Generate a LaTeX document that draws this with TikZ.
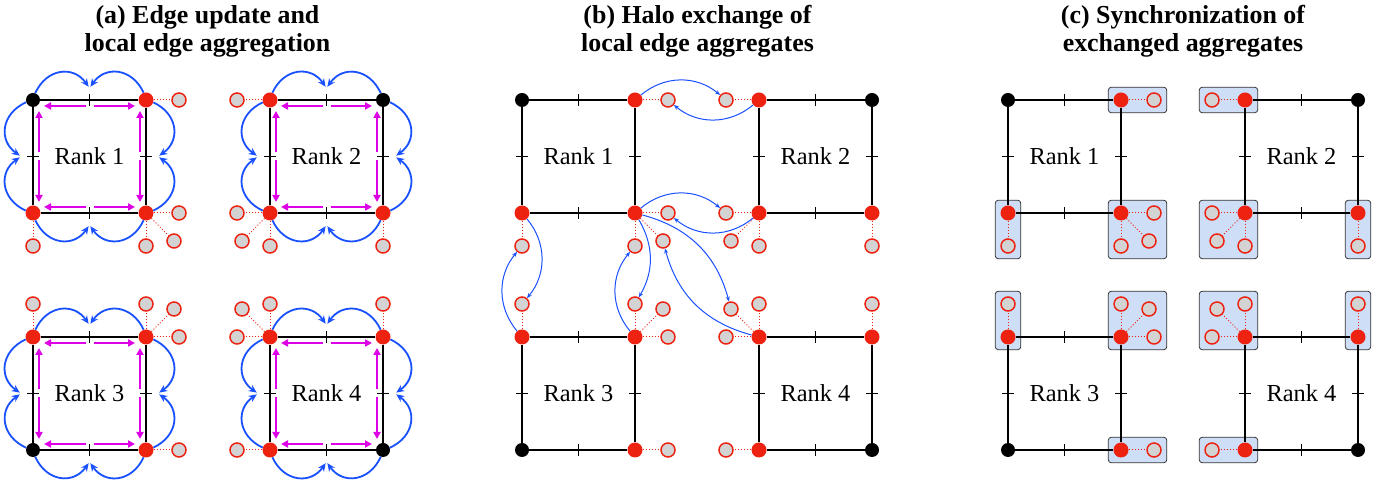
\documentclass[tikz,border=0pt]{standalone}
\usepackage{fontspec}
\setmainfont{Liberation Serif}
\usepackage{tikz}
\usetikzlibrary{arrows.meta, fit, backgrounds}

\definecolor{nodered}{RGB}{238,34,17}
\definecolor{ghostgray}{RGB}{211,211,211}
\definecolor{arrowblue}{RGB}{25,80,255}
\definecolor{aggmagenta}{RGB}{222,0,230}
\definecolor{boxblue}{RGB}{206,222,246}

% one rank: #1 name, #2 left, #3 top, #4 label, #5--#8 styles of tl, tr, bl, br
\newcommand{\rankmesh}[8]{%
  \node[#5] (#1tl) at (#2,#3) {};
  \node[#6] (#1tr) at (#2+113,#3) {};
  \node[#7] (#1bl) at (#2,#3-113) {};
  \node[#8] (#1br) at (#2+113,#3-113) {};
  \node[ranklabel] (#1label) at (#2+56.5,#3-56.5) {#4};
  \coordinate (#1t) at (#2+56.5,#3);
  \coordinate (#1b) at (#2+56.5,#3-113);
  \coordinate (#1l) at (#2,#3-56.5);
  \coordinate (#1r) at (#2+113,#3-56.5);
  \coordinate (#1t-out) at (#2+56.5,#3+12);
  \coordinate (#1b-out) at (#2+56.5,#3-125);
  \coordinate (#1l-out) at (#2-12,#3-56.5);
  \coordinate (#1r-out) at (#2+125,#3-56.5);
  \coordinate (#1t-in) at (#2+56.5,#3-6);
  \coordinate (#1b-in) at (#2+56.5,#3-107);
  \coordinate (#1l-in) at (#2+6,#3-56.5);
  \coordinate (#1r-in) at (#2+107,#3-56.5);
  \coordinate (#1tl-in) at (#2+6,#3-6);
  \coordinate (#1tr-in) at (#2+107,#3-6);
  \coordinate (#1bl-in) at (#2+6,#3-107);
  \coordinate (#1br-in) at (#2+107,#3-107);
  \draw[meshline] (#1tl) -- (#1tr);
  \draw[meshline] (#1tr) -- (#1br);
  \draw[meshline] (#1br) -- (#1bl);
  \draw[meshline] (#1bl) -- (#1tl);
  \draw[midtick] ([yshift=-6bp]#1t) -- ([yshift=6bp]#1t);
  \draw[midtick] ([yshift=-6bp]#1b) -- ([yshift=6bp]#1b);
  \draw[midtick] ([xshift=-6bp]#1l) -- ([xshift=6bp]#1l);
  \draw[midtick] ([xshift=-6bp]#1r) -- ([xshift=6bp]#1r);
}

% four ranks with their ghost nodes: #1 panel, #2 left
\newcommand{\rankpanel}[2]{%
  \rankmesh{#11}{#2}{381}{Rank 1}{corner}{owned}{owned}{owned}
  \rankmesh{#12}{#2+237}{381}{Rank 2}{owned}{corner}{owned}{owned}
  \rankmesh{#13}{#2}{144}{Rank 3}{owned}{owned}{corner}{owned}
  \rankmesh{#14}{#2+237}{144}{Rank 4}{owned}{owned}{owned}{corner}
  \foreach \own/\dir/\dx/\dy in {1tr/r/33/0, 1br/r/33/0, 1br/d/28/-28, 1br/b/0/-33, 1bl/b/0/-33,
      2tl/l/-33/0, 2bl/l/-33/0, 2bl/d/-28/-28, 2bl/b/0/-33, 2br/b/0/-33,
      3tl/t/0/33, 3tr/t/0/33, 3tr/d/28/28, 3tr/r/33/0, 3br/r/33/0,
      4tr/t/0/33, 4tl/l/-33/0, 4tl/d/-28/28, 4tl/t/0/33, 4bl/l/-33/0} {
    \node[ghost] (#1\own-\dir) at ([shift={(\dx,\dy)}]#1\own) {};
    \draw[link] (#1\own) -- (#1\own-\dir);
  }
}

\begin{document}
\begin{tikzpicture}[x=1bp, y=1bp,
    owned/.style = {circle, fill=nodered, minimum size=15bp, inner sep=0pt},
    corner/.style = {circle, fill=black, minimum size=14bp, inner sep=0pt},
    ghost/.style = {circle, draw=nodered, line width=1.5bp, fill=ghostgray, minimum size=14bp, inner sep=0pt},
    link/.style = {nodered, dotted, line width=1bp},
    meshline/.style = {line width=2.2bp},
    midtick/.style = {line width=1.8bp},
    ranklabel/.style = {font=\fontsize{24.5}{26}\selectfont, inner sep=0pt},
    paneltitle/.style = {font=\bfseries\fontsize{26}{28}\selectfont, align=center, inner sep=0pt},
    updatearrow/.style = {arrowblue, line width=1.8bp, -{Stealth[length=8bp, width=7bp]}, shorten >=1.5bp},
    aggarrow/.style = {aggmagenta, line width=1.8bp, -{Triangle[length=7bp, width=7bp]}, shorten <=4bp, shorten >=5bp},
    haloarrow/.style = {arrowblue, line width=1bp, -{Stealth[length=5bp, width=4bp]}},
    syncbox/.style = {draw=black!80, fill=boxblue, rounded corners=3bp, line width=0.8bp, inner sep=5bp}]
  \useasboundingbox (0,0) rectangle (1390,481);

  \node[paneltitle] (atitle) at (207.5,450) {(a) Edge update and\\local edge aggregation};
  \node[paneltitle] (btitle) at (697.5,450) {(b) Halo exchange of\\local edge aggregates};
  \node[paneltitle] (ctitle) at (1183,450) {(c) Synchronization of\\exchanged aggregates};

  % (a) edge update and local aggregation
  \rankpanel{a}{33}
  \foreach \r in {1,...,4} {
    \foreach \c/\m/\ang in {tl/t/60, tr/t/-60, tr/r/60, br/r/-60, br/b/60, bl/b/-60, bl/l/60, tl/l/-60}
      \draw[updatearrow] (a\r\c) to[bend left=\ang, looseness=1.3] (a\r\m-out);
    \foreach \m/\c in {t/tl, t/tr, r/tr, r/br, b/br, b/bl, l/bl, l/tl}
      \draw[aggarrow] (a\r\m-in) -- (a\r\c-in);
  }

  % (b) halo exchange
  \rankpanel{b}{522}
  \draw[haloarrow] (b1tr) to[bend left=40] (b2tl-l);
  \draw[haloarrow] (b2tl) to[bend left=40] (b1tr-r);
  \draw[haloarrow] (b1br) to[bend left=40] (b2bl-l);
  \draw[haloarrow] (b2bl) to[bend left=40] (b1br-r);
  \draw[haloarrow] (b1bl) to[bend left=40] (b3tl-t);
  \draw[haloarrow] (b3tl) to[bend left=40] (b1bl-b);
  \draw[haloarrow] (b1br) to[bend left=30] (b3tr-t);
  \draw[haloarrow] (b3tr) to[bend left=40] (b1br-b);
  \draw[haloarrow] (b1br) to[bend left=30] (b4tl-d);
  \draw[haloarrow] (b4tl) to[bend left=30] (b1br-d);

  % (c) synchronization
  \rankpanel{c}{1008}
  \begin{scope}[on background layer]
    \node[syncbox, fit=(c1tr)(c1tr-r)] (c1tr-box) {};
    \node[syncbox, fit=(c1bl)(c1bl-b)] (c1bl-box) {};
    \node[syncbox, fit=(c1br)(c1br-r)(c1br-d)(c1br-b)] (c1br-box) {};
    \node[syncbox, fit=(c2tl)(c2tl-l)] (c2tl-box) {};
    \node[syncbox, fit=(c2bl)(c2bl-l)(c2bl-d)(c2bl-b)] (c2bl-box) {};
    \node[syncbox, fit=(c2br)(c2br-b)] (c2br-box) {};
    \node[syncbox, fit=(c3tl)(c3tl-t)] (c3tl-box) {};
    \node[syncbox, fit=(c3tr)(c3tr-t)(c3tr-d)(c3tr-r)] (c3tr-box) {};
    \node[syncbox, fit=(c3br)(c3br-r)] (c3br-box) {};
    \node[syncbox, fit=(c4tl)(c4tl-l)(c4tl-d)(c4tl-t)] (c4tl-box) {};
    \node[syncbox, fit=(c4tr)(c4tr-t)] (c4tr-box) {};
    \node[syncbox, fit=(c4bl)(c4bl-l)] (c4bl-box) {};
  \end{scope}
\end{tikzpicture}
\end{document}
